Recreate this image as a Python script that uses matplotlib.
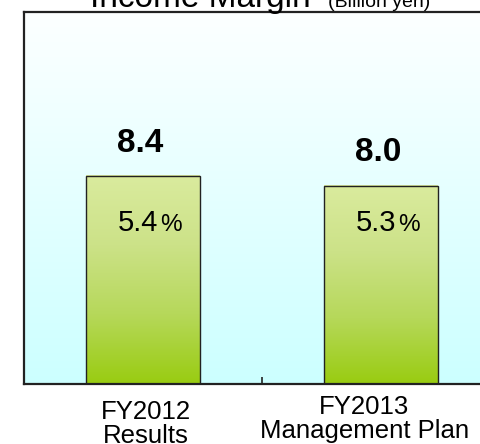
#!/usr/bin/env python3
# -*- coding: utf-8 -*-
"""Income margin bar chart: FY2012 results vs FY2013 plan."""

import numpy as np
import matplotlib
matplotlib.use("Agg")
import matplotlib.pyplot as plt
from matplotlib.colors import LinearSegmentedColormap

plt.rcParams["font.family"] = ["Liberation Sans", "DejaVu Sans"]

# data
categories = ["FY2012\nResults", "FY2013\nManagement Plan"]
income_margin = [8.4, 8.0]          # billion yen
margin_pct = [5.4, 5.3]             # percent

W, H = 481, 444
fig = plt.figure(figsize=(W / 100, H / 100), dpi=100)
# axes deliberately runs past the right edge of the figure (as in the source)
ax = fig.add_axes([24 / W, (H - 384) / H, 476 / W, 372 / H])

# background gradient: near white at top -> light cyan at bottom
bg = LinearSegmentedColormap.from_list("bg", ["#CCFFFF", "#FDFFFF"])
grad = np.linspace(0, 1, 256).reshape(-1, 1)
ax.imshow(grad, cmap=bg, origin="lower", aspect="auto",
          extent=(-0.5, 1.5, 0, 15), zorder=0)

# bars with vertical green gradient
bar_cmap = LinearSegmentedColormap.from_list(
    "bar", ["#99CC11", "#B6D85A", "#CCE288", "#DAEB9E"])
x = np.arange(len(categories))
width = 0.475
bars = ax.bar(x, income_margin, width=width, facecolor="none",
              edgecolor="#222222", linewidth=1.0, zorder=3)
for b in bars:
    x0, y0 = b.get_x(), b.get_y()
    ax.imshow(grad, cmap=bar_cmap, origin="lower", aspect="auto",
              extent=(x0, x0 + b.get_width(), y0, y0 + b.get_height()),
              zorder=2)
ax.set_xlim(-0.5, 1.5)
ax.set_ylim(0, 15)

# value labels above the bars
for xi, v in zip(x, income_margin):
    ax.annotate(f"{v:.1f}", (xi, v), xytext=(-2, 23.5),
                textcoords="offset points", ha="center", va="center",
                fontsize=24, fontweight="bold", zorder=5)

# margin % inside the bars (number + smaller % sign)
for xi, p in zip(x, margin_pct):
    ax.annotate(f"{p:.1f}", (xi, 6.18), xytext=(11.2, 0),
                textcoords="offset points", ha="right", va="baseline",
                fontsize=21, zorder=5)
    ax.annotate("%", (xi, 6.18), xytext=(12.0, 0),
                textcoords="offset points", ha="left", va="baseline",
                fontsize=17.5, zorder=5)

# category labels (drawn as text so they can be nudged like the source)
label_dx = [2, -12]     # points
label_dy = [-11.5, -8]  # points
for xi, lab, dx, dy in zip(x, categories, label_dx, label_dy):
    ax.annotate(lab, (xi, 0), xycoords=("data", "axes fraction"),
                xytext=(dx, dy), textcoords="offset points",
                ha="center", va="top", fontsize=18.5, linespacing=0.98)

# axis styling: category separator tick only
ax.set_xticks([0.5])
ax.set_xticklabels([])
ax.set_yticks([])
ax.tick_params(axis="x", direction="in", length=5, width=1.2, color="#222222")
for side in ("left", "bottom", "top"):
    ax.spines[side].set_linewidth(1.6)
    ax.spines[side].set_color("#222222")
ax.spines["right"].set_visible(False)

# title, mostly cut off at the top edge as in the source
fig.text(90 / W, (H - 7) / H, "Income Margin", fontsize=24,
         ha="left", va="baseline")
fig.text(328 / W, (H - 7) / H, "(Billion yen)", fontsize=14,
         ha="left", va="baseline")

fig.savefig("out.png", dpi=100)
